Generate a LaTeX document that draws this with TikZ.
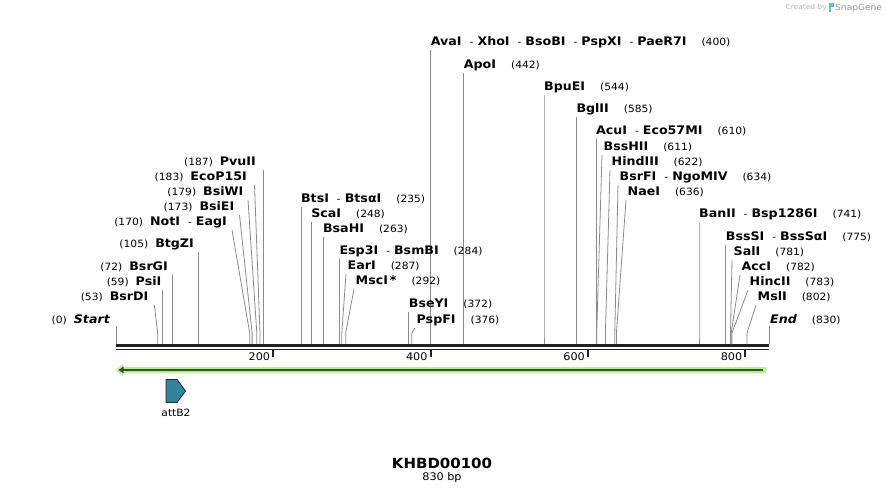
\documentclass[tikz,border=0pt]{standalone}
\usepackage{fontspec}
\setmainfont{DejaVu Sans}[FakeStretch=1.07]
\usetikzlibrary{arrows.meta}
\definecolor{leadgray}{HTML}{8A8A8A}
\definecolor{barblack}{HTML}{222222}
\definecolor{lgreen}{HTML}{B6F08C}
\definecolor{dkgreen}{HTML}{3A4A38}
\definecolor{featteal}{HTML}{31849B}
\definecolor{logogray}{HTML}{B4B4B4}
\definecolor{logoblue}{HTML}{5BB8EE}
\newcommand\nm[1]{{\fontsize{11.8}{13}\selectfont\bfseries #1}}
\newcommand\sepx{\hspace{8pt}-\hspace{4pt}}
\newcommand\nbr[1]{\hspace{15pt}(#1)}
\newcommand\nbl[1]{(#1)\hspace{7pt}}
\tikzset{
  lab/.style={inner sep=0pt, font=\fontsize{10}{12}\selectfont, text=black},
  leader/.style={draw=leadgray, line width=0.8pt},
  barline/.style={draw=barblack},
  tickmark/.style={draw=barblack, line width=2pt},
  ticklab/.style={inner sep=0pt, font=\fontsize{10.5}{12}\selectfont, anchor=east},
}
% right-type label: id, text x, y, content, line top x, site x
\newcommand\Rlab[6]{%
  \node[lab,anchor=west] (#1) at (#2,#3) {#4};
  \coordinate (#1t) at (#5,#3+8);
  \coordinate (#1b) at (#6,333);
  \coordinate (#1s) at (#6,344);
  \draw[leader] (#1t) -- (#1b) -- (#1s);
}
\newcommand\Llab[6]{%
  \node[lab,anchor=east] (#1) at (#2,#3) {#4};
  \coordinate (#1t) at (#5,#3+8);
  \coordinate (#1b) at (#6,333);
  \coordinate (#1s) at (#6,344);
  \draw[leader] (#1t) -- (#1b) -- (#1s);
}
\begin{document}
\begin{tikzpicture}[x=1pt,y=-1pt]
\useasboundingbox (0,0) rectangle (886,494);

% logo
\node[inner sep=0pt, anchor=east, font=\fontsize{7}{8}\selectfont, text=logogray] (created) at (827,8) {Created by};
\fill[logoblue] (829,3.5) rectangle (833.5,7.5);
\fill[logoblue] (829,7.5) rectangle (831,12.5);
\node[inner sep=0pt, anchor=west, font=\fontsize{8.5}{9}\selectfont, text=logogray!85!black] (snap) at (835,8) {SnapGene};

% sequence bar
\coordinate (barL) at (116,345.5);
\coordinate (barR) at (769,345.5);
\coordinate (barL2) at (116,349.5);
\coordinate (barR2) at (769,349.5);
\draw[barline, line width=3pt] (barL) -- (barR);
\draw[barline, line width=1.8pt] (barL2) -- (barR2);

% ticks
\foreach \v/\xx in {200/273.3, 400/430.7, 600/588.0, 800/745.4}{
  \coordinate (tk\v) at (\xx,350);
  \coordinate (tkb\v) at (\xx,357);
  \draw[tickmark] (tk\v) -- (tkb\v);
  \node[ticklab] (tl\v) at (\xx-3,357) {\v};
}

% Start / End
\node[lab,anchor=east] (start) at (110,320) {\nbl{0}\nm{\itshape Start}};
\coordinate (startt) at (116,326);
\coordinate (starts) at (116,344);
\draw[leader] (startt) -- (starts);
\node[lab,anchor=west] (endl) at (770,320) {\nm{\itshape End}\nbr{830}};
\coordinate (endt) at (769,326);
\coordinate (ends) at (769,344);
\draw[leader] (endt) -- (ends);

% right-side top labels
\Rlab{ava}{430.7}{42}{\nm{AvaI}\sepx\nm{XhoI}\sepx\nm{BsoBI}\sepx\nm{PspXI}\sepx\nm{PaeR7I}\nbr{400}}{430.7}{430.7}
\Rlab{apo}{463.7}{65}{\nm{ApoI}\nbr{442}}{463.7}{463.7}
\Rlab{bpu}{544}{87}{\nm{BpuEI}\nbr{544}}{544}{544}
\Rlab{bgl}{576.3}{109}{\nm{BglII}\nbr{585}}{576.3}{576.3}
\Rlab{acu}{595.9}{131}{\nm{AcuI}\sepx\nm{Eco57MI}\nbr{610}}{595.9}{595.9}
\Rlab{bsh}{603.5}{147}{\nm{BssHII}\nbr{611}}{602}{596.7}
\Rlab{hind}{611.5}{162}{\nm{HindIII}\nbr{622}}{610}{605.4}
\Rlab{bsrf}{619.5}{177}{\nm{BsrFI}\sepx\nm{NgoMIV}\nbr{634}}{618}{614.8}
\Rlab{nae}{627.5}{192}{\nm{NaeI}\nbr{636}}{626}{616.4}
\Rlab{ban}{699}{214}{\nm{BanII}\sepx\nm{Bsp1286I}\nbr{741}}{699}{699}
\Rlab{bsss}{725.7}{237}{\nm{BssSI}\sepx\nm{BssSαI}\nbr{775}}{725.7}{725.7}
\Rlab{sal}{733.5}{252}{\nm{SalI}\nbr{781}}{732}{730.5}
\Rlab{acc}{741.5}{267}{\nm{AccI}\nbr{782}}{740}{731.2}
\Rlab{hinc}{749.5}{282}{\nm{HincII}\nbr{783}}{748}{732}
\Rlab{msl}{757.5}{297}{\nm{MslI}\nbr{802}}{756}{747}

% middle labels
\Rlab{bts}{300.9}{199}{\nm{BtsI}\sepx\nm{BtsαI}\nbr{235}}{300.9}{300.9}
\Rlab{sca}{311.1}{214}{\nm{ScaI}\nbr{248}}{311.1}{311.1}
\Rlab{bsah}{322.9}{229}{\nm{BsaHI}\nbr{263}}{322.9}{322.9}
\Rlab{esp}{339.4}{251}{\nm{Esp3I}\sepx\nm{BsmBI}\nbr{284}}{339.4}{339.4}
\Rlab{ear}{347.5}{266}{\nm{EarI}\nbr{287}}{346}{341.8}
\Rlab{msc}{355.5}{281}{\nm{MscI\,*}\nbr{292}}{354}{345.7}
\Rlab{bsey}{408.7}{304}{\nm{BseYI}\nbr{372}}{408.7}{408.7}
\Rlab{pspf}{416.5}{320}{\nm{PspFI}\nbr{376}}{415}{411.8}

% left labels
\Llab{pvu}{256}{162}{\nbl{187}\nm{PvuII}}{263.1}{263.1}
\Llab{eco}{247}{177}{\nbl{183}\nm{EcoP15I}}{254.5}{260}
\Llab{bsiw}{243.5}{192}{\nbl{179}\nm{BsiWI}}{248}{256.8}
\Llab{bsie}{234.5}{207}{\nbl{173}\nm{BsiEI}}{239.5}{252.1}
\Llab{not}{227}{222}{\nbl{170}\nm{NotI}\sepx\nm{EagI}}{232}{249.7}
\Llab{btg}{194}{244}{\nbl{105}\nm{BtgZI}}{198.6}{198.6}
\Llab{bsrg}{168}{267}{\nbl{72}\nm{BsrGI}}{172.6}{172.6}
\Llab{psi}{161.5}{282}{\nbl{59}\nm{PsiI}}{162.6}{162.4}
\Llab{bsrd}{148.5}{297}{\nbl{53}\nm{BsrDI}}{154.3}{157.7}

% green feature arrow
\coordinate (gR) at (766,370);
\coordinate (gL) at (116,370);
\coordinate (dR) at (763,370);
\coordinate (dL) at (118.5,370);
\draw[draw=lgreen, line width=6pt, -{Triangle[length=7pt,width=12pt]}] (gR) -- (gL);
\draw[draw=dkgreen, line width=2.4pt, -{Triangle[length=5pt,width=6.5pt]}] (dR) -- (dL);

% attB2 feature
\draw[fill=featteal, draw=black!85, line width=0.8pt] (166,379.5) -- (177,379.5) -- (185.5,391) -- (177,402.5) -- (166,402.5) -- cycle;
\node[lab, anchor=center] (attb) at (176,412.5) {attB2};

% title
\node[inner sep=0pt, font=\fontsize{14}{16}\selectfont\bfseries] (title) at (442,463) {KHBD00100};
\node[inner sep=0pt, font=\fontsize{10.5}{12}\selectfont] (sub) at (442,478) {830 bp};
\end{tikzpicture}
\end{document}
